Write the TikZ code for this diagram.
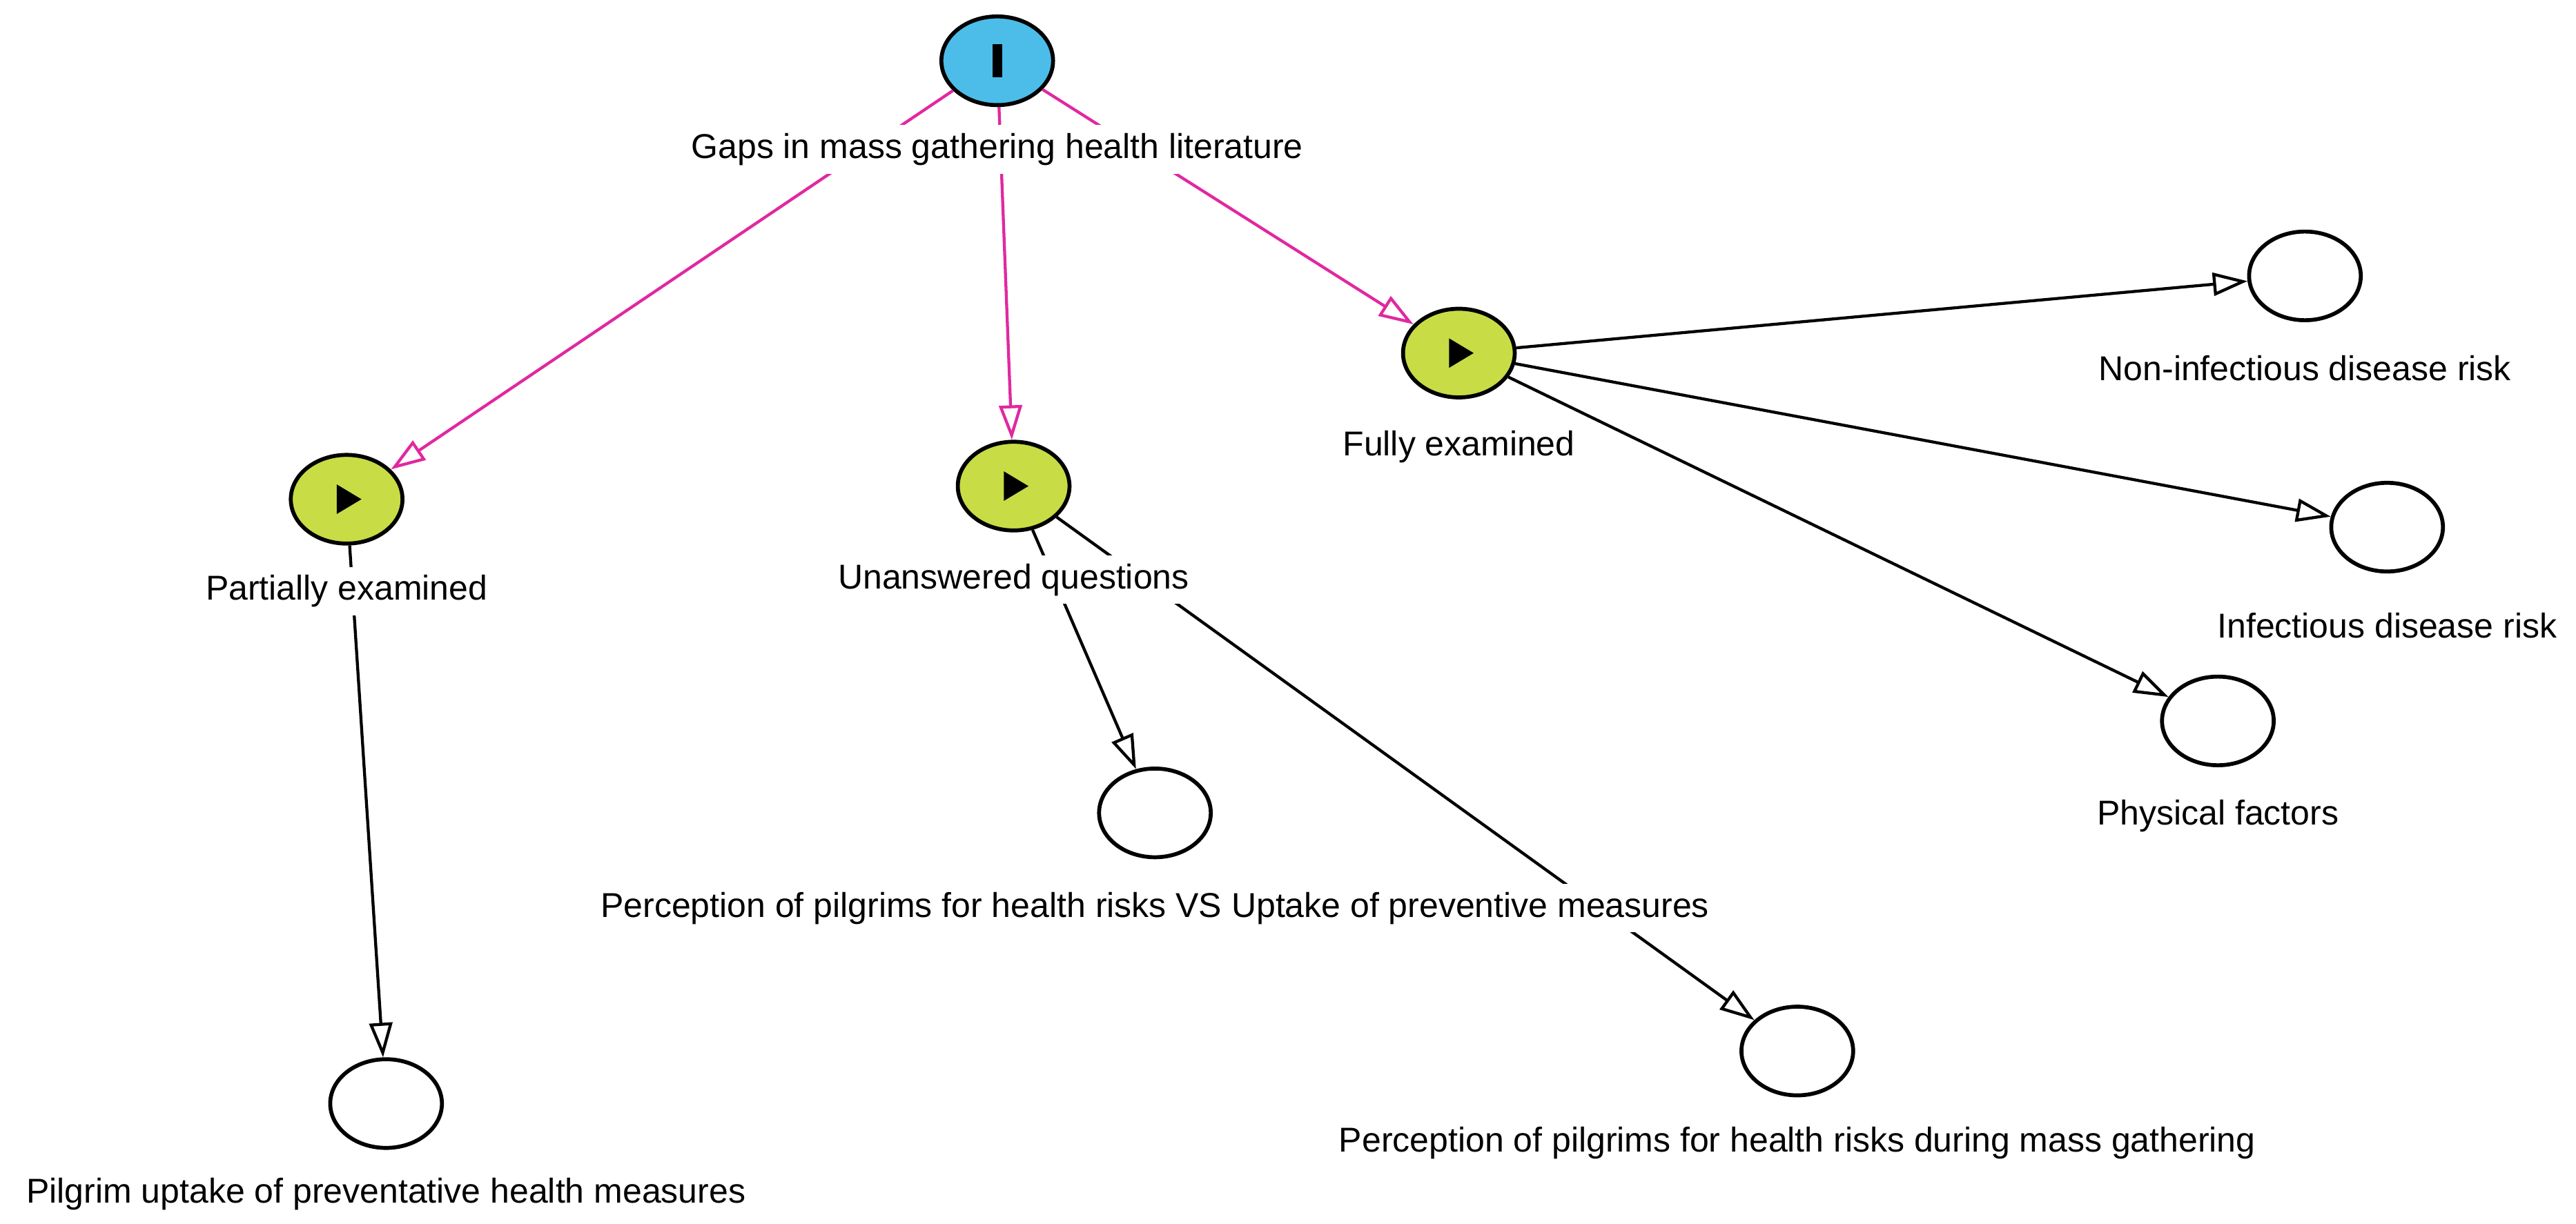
\documentclass[tikz,border=0pt]{standalone}
\usepackage{fontspec}
\setmainfont{Liberation Sans}
\usetikzlibrary{arrows.meta,shapes.geometric}
\definecolor{nblue}{RGB}{75,189,232}
\definecolor{ngreen}{RGB}{200,220,70}
\definecolor{npink}{RGB}{225,40,160}
\begin{document}
\begin{tikzpicture}[x=1pt,y=-1pt,
  nd/.style={ellipse,draw=black,line width=2.4pt,minimum width=68pt,minimum height=54pt,inner sep=0pt},
  lbl/.style={fill=white,inner sep=5pt,font=\fontsize{21}{23}\selectfont},
  pe/.style={draw=npink,line width=1.8pt,-{Triangle[open,length=21pt,width=14pt]}},
  be/.style={draw=black,line width=1.8pt,-{Triangle[open,length=21pt,width=14pt]}}]
\useasboundingbox (0,0) rectangle (1568,745);
\node[nd,fill=nblue] (top) at (607,37) {};
\node[nd,fill=ngreen] (pa) at (211,304) {};
\node[nd,fill=ngreen] (un) at (617,296) {};
\node[nd,fill=ngreen] (fu) at (888,215) {};
\node[nd] (ni) at (1403,168) {};
\node[nd] (in) at (1453,321) {};
\node[nd] (ph) at (1350,439) {};
\node[nd] (pvs) at (703,495) {};
\node[nd] (pdu) at (1094,640) {};
\node[nd] (pil) at (235,672) {};
\fill (604,27) rectangle (610,47);
\foreach \n in {pa,un,fu} \fill ([xshift=-6pt,yshift=-9pt]\n.center) -- ([xshift=-6pt,yshift=9pt]\n.center) -- ([xshift=9pt]\n.center) -- cycle;
\draw[pe] (top) -- (pa);
\draw[pe] (top) -- (un);
\draw[pe] (top) -- (fu);
\draw[be] (fu) -- (ni);
\draw[be] (fu) -- (in);
\draw[be] (fu) -- (ph);
\draw[be] (un) -- (pvs);
\draw[be] (un) -- (pdu);
\draw[be] (pa) -- (pil);
\node[lbl] (ltop) at (607,91) {Gaps in mass gathering health literature};
\node[lbl] (lpa) at (211,360) {Partially examined};
\node[lbl] (lun) at (617,353) {Unanswered questions};
\node[lbl] (lfu) at (888,272) {Fully examined};
\node[lbl] (lni) at (1403,224) {Non-infectious disease risk};
\node[lbl] (lin) at (1453,381) {Infectious disease risk};
\node[lbl] (lph) at (1350,497) {Physical factors};
\node[lbl] (lpvs) at (703,553) {Perception of pilgrims for health risks VS Uptake of preventive measures};
\node[lbl] (lpdu) at (1094,696) {Perception of pilgrims for health risks during mass gathering};
\node[lbl] (lpil) at (235,727) {Pilgrim uptake of preventative health measures};
\end{tikzpicture}
\end{document}
